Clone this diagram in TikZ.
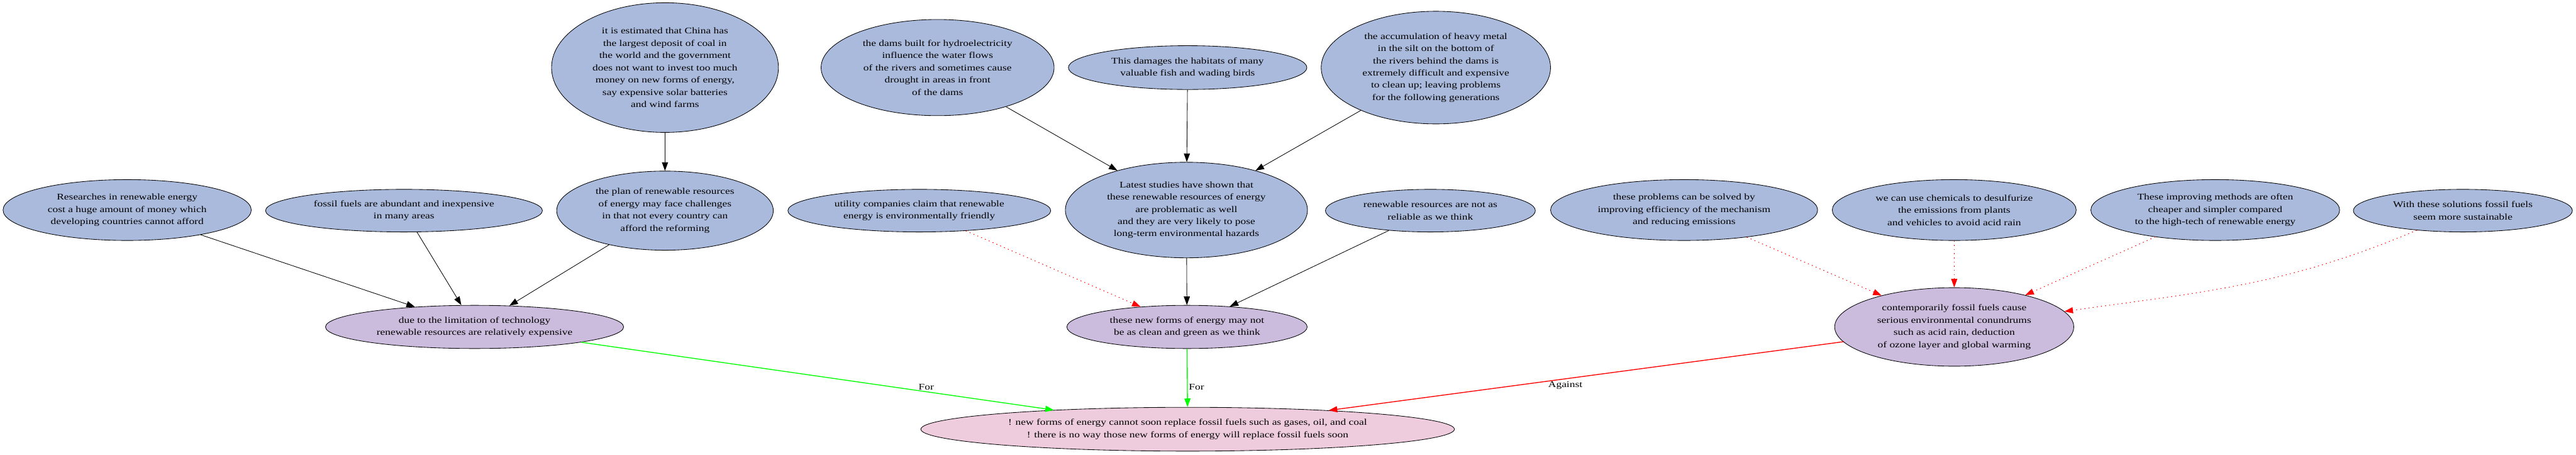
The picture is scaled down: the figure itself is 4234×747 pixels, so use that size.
\documentclass[tikz,border=0pt]{standalone}
\usepackage{fontspec}
\setmainfont{Liberation Serif}[FakeStretch=1.25]
\usetikzlibrary{shapes.geometric,arrows.meta}

\definecolor{premise}{RGB}{170,186,220}
\definecolor{claim}{RGB}{203,187,221}
\definecolor{thesis}{RGB}{238,204,222}

\tikzset{wh/.style 2 args={minimum width=#1*0.02cm,minimum height=#2*0.02cm}}

\begin{document}
\begin{tikzpicture}[x=0.02cm,y=-0.02cm,font=\fontsize{8.2}{11.44}\selectfont]

      \useasboundingbox (0,0) rectangle (4234,747);

      \begin{scope}[every node/.style={ellipse,draw,fill=premise,inner sep=0pt,align=center,line width=0.5pt}]
        \node[wh={373}{213}] (1)  at (1093,111) {it is estimated that China has\\the largest deposit of coal in\\the world and the government\\does not want to invest too much\\money on new forms of energy,\\say expensive solar batteries\\and wind farms};
        \node[wh={356}{130}] (2)  at (1093,346) {the plan of renewable resources\\of energy may face challenges\\in that not every country can\\afford the reforming};
        \node[wh={408}{100}] (3)  at (209,345)  {Researches in renewable energy\\cost a huge amount of money which\\developing countries cannot afford};
        \node[wh={455}{70}]  (4)  at (664,346)  {fossil fuels are abundant and inexpensive\\in many areas};
        \node[wh={490}{71},fill=claim] (5)  at (780,537) {due to the limitation of technology\\renewable resources are relatively expensive};
        \node[wh={383}{158}] (6)  at (1541,111) {the dams built for hydroelectricity\\influence the water flows\\of the rivers and sometimes cause\\drought in areas in front\\of the dams};
        \node[wh={392}{72}]  (7)  at (1952,111) {This damages the habitats of many\\valuable fish and wading birds};
        \node[wh={377}{185}] (8)  at (2360,111) {the accumulation of heavy metal\\in the silt on the bottom of\\the rivers behind the dams is\\extremely difficult and expensive\\to clean up; leaving problems\\for the following generations};
        \node[wh={432}{70}]  (9)  at (1511,346) {utility companies claim that renewable\\energy is environmentally friendly};
        \node[wh={398}{157}] (10) at (1950,345) {Latest studies have shown that\\these renewable resources of energy\\are problematic as well\\and they are very likely to pose\\long-term environmental hazards};
        \node[wh={345}{70}]  (11) at (2351,346) {renewable resources are not as\\reliable as we think};
        \node[wh={395}{71},fill=claim] (12) at (1951,537) {these new forms of energy may not\\be as clean and green as we think};
        \node[wh={439}{100}] (13) at (2768,345) {these problems can be solved by\\improving efficiency of the mechanism\\and reducing emissions};
        \node[wh={401}{100}] (14) at (3212,345) {we can use chemicals to desulfurize\\the emissions from plants\\and vehicles to avoid acid rain};
        \node[wh={409}{100}] (15) at (3641,345) {These improving methods are often\\cheaper and simpler compared\\to the high-tech of renewable energy};
        \node[wh={360}{70}]  (16) at (4048,346) {With these solutions fossil fuels\\seem more sustainable};
        \node[wh={393}{129},fill=claim] (17) at (3212,537) {contemporarily fossil fuels cause\\serious environmental conundrums\\such as acid rain, deduction\\of ozone layer and global warming};
        \node[wh={877}{72},fill=thesis] (18) at (1952,705) {! new forms of energy cannot soon replace fossil fuels such as gases, oil, and coal\\! there is no way those new forms of energy will replace fossil fuels soon};
      \end{scope}

      \begin{scope}[every edge/.style={draw,line width=0.5pt,-{Triangle[length=0.28cm,width=0.2cm]}}]
        \path (1)  edge (2);
        \path (3)  edge (5);
        \path (4)  edge (5);
        \path (2)  edge (5);
        \path (6)  edge (10);
        \path (7)  edge (10);
        \path (8)  edge (10);
        \path (10) edge (12);
        \path (11) edge (12);
      \end{scope}

      \begin{scope}[every edge/.style={draw=red,line width=0.6pt,dash pattern=on 0.9pt off 3pt,-{Triangle[length=0.28cm,width=0.2cm]}}]
        \path (9)  edge (12);
        \path (13) edge (17);
        \path (14) edge (17);
        \path (15) edge (17);
        \path (16) edge[out=203,in=8] (17);
      \end{scope}

      \begin{scope}[every edge/.style={line width=0.8pt,-{Triangle[length=0.28cm,width=0.2cm]}}]
        \path (5)  edge[draw=green] node[pos=0.73,above,inner sep=1pt] {For} (18);
        \path (12) edge[draw=green] node[pos=0.66,right,inner sep=1pt] {For} (18);
        \path (17) edge[draw=red] node[pos=0.54,below,inner sep=2pt] {Against} (18);
      \end{scope}

    \end{tikzpicture}
\end{document}
